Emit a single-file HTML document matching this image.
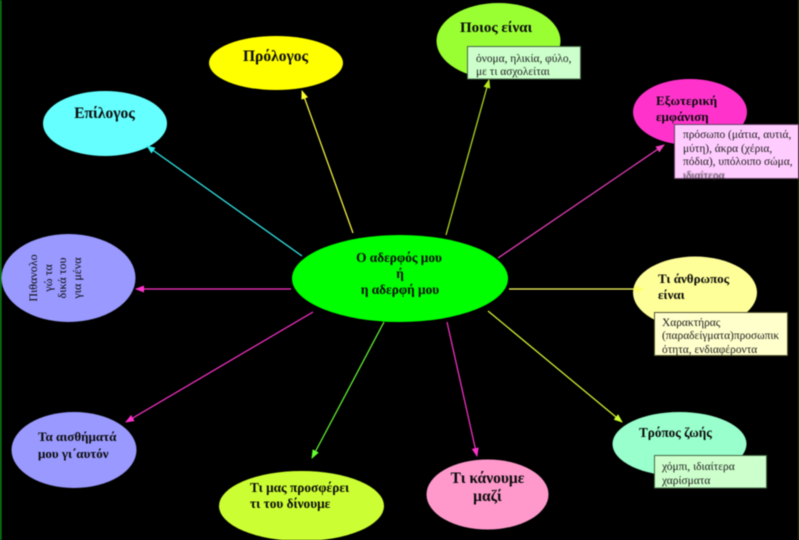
<!DOCTYPE html>
<html><head><meta charset="utf-8"><style>
html,body{margin:0;padding:0;background:#000;width:799px;height:540px;overflow:hidden}
svg{display:block;filter:blur(0.45px)}
text{font-family:"Liberation Serif",serif}
.b{font-weight:bold;fill:#0a0a0a}
.t{fill:#1c1c1c;font-size:11.4px}
</style></head><body>
<svg width="799" height="540" viewBox="0 0 799 540" xmlns="http://www.w3.org/2000/svg">
<defs>
<marker id="a1" markerWidth="9" markerHeight="7" refX="8" refY="3.5" orient="auto" markerUnits="userSpaceOnUse"><path d="M0 0L9 3.5L0 7z" fill="#ffff33"/></marker>
<marker id="a2" markerWidth="9" markerHeight="7" refX="8" refY="3.5" orient="auto" markerUnits="userSpaceOnUse"><path d="M0 0L9 3.5L0 7z" fill="#b8e820"/></marker>
<marker id="a3" markerWidth="9" markerHeight="7" refX="8" refY="3.5" orient="auto" markerUnits="userSpaceOnUse"><path d="M0 0L9 3.5L0 7z" fill="#f040c0"/></marker>
<marker id="a4" markerWidth="9" markerHeight="7" refX="8" refY="3.5" orient="auto" markerUnits="userSpaceOnUse"><path d="M0 0L9 3.5L0 7z" fill="#ffff66"/></marker>
<marker id="a5" markerWidth="9" markerHeight="7" refX="8" refY="3.5" orient="auto" markerUnits="userSpaceOnUse"><path d="M0 0L9 3.5L0 7z" fill="#ccff33"/></marker>
<marker id="a6" markerWidth="9" markerHeight="7" refX="8" refY="3.5" orient="auto" markerUnits="userSpaceOnUse"><path d="M0 0L9 3.5L0 7z" fill="#ff33cc"/></marker>
<marker id="a7" markerWidth="9" markerHeight="7" refX="8" refY="3.5" orient="auto" markerUnits="userSpaceOnUse"><path d="M0 0L9 3.5L0 7z" fill="#66ff33"/></marker>
<marker id="a8" markerWidth="9" markerHeight="7" refX="8" refY="3.5" orient="auto" markerUnits="userSpaceOnUse"><path d="M0 0L9 3.5L0 7z" fill="#33eeee"/></marker>
</defs>
<rect width="799" height="540" fill="#000"/>
<rect x="0" y="0" width="1.5" height="540" fill="#0a8a14"/>
<rect x="798" y="0" width="1" height="540" fill="#064d0b"/>

<ellipse cx="498.500" cy="41" rx="62" ry="38" fill="#99ff33"/>
<ellipse cx="690" cy="112" rx="57" ry="33" fill="#ff33cc"/>
<ellipse cx="695" cy="292.500" rx="62" ry="36" fill="#ffff99"/>
<ellipse cx="679.500" cy="444" rx="67" ry="32" fill="#99ffcc"/>
<ellipse cx="68.500" cy="278" rx="67" ry="44" fill="#9999ff"/>
<ellipse cx="74" cy="450" rx="62.500" ry="38" fill="#9999ff"/>
<ellipse cx="301.500" cy="506" rx="82.500" ry="35" fill="#ccff33"/>
<ellipse cx="487.500" cy="494.500" rx="61" ry="35" fill="#ff99cc"/>
<ellipse cx="276" cy="63" rx="67" ry="27" fill="#ffff00"/>
<ellipse cx="105" cy="123.500" rx="62" ry="32.500" fill="#66ffff"/>
<ellipse cx="400" cy="278.500" rx="108" ry="43.500" fill="#00ff00"/>

<g stroke-width="1.2" fill="none">
<line x1="353" y1="233" x2="302" y2="91" stroke="#ffff40" marker-end="url(#a1)"/>
<line x1="446" y1="235" x2="489" y2="80" stroke="#b8e820" marker-end="url(#a2)"/>
<line x1="498" y1="258" x2="664" y2="145" stroke="#f040c0" marker-end="url(#a3)"/>
<line x1="509" y1="289" x2="643" y2="289" stroke="#ffff60" marker-end="url(#a4)"/>
<line x1="488" y1="311" x2="622" y2="422" stroke="#d8ff33" marker-end="url(#a5)"/>
<line x1="447" y1="322" x2="477" y2="456" stroke="#ff33cc" marker-end="url(#a6)"/>
<line x1="384" y1="322" x2="312" y2="458" stroke="#66ff33" marker-end="url(#a7)"/>
<line x1="313" y1="312" x2="126" y2="422" stroke="#ff33cc" marker-end="url(#a6)"/>
<line x1="291" y1="289" x2="136" y2="289" stroke="#ff33cc" marker-end="url(#a6)"/>
<line x1="302" y1="256" x2="147" y2="146" stroke="#33eeee" marker-end="url(#a8)"/>
</g>

<text class="b" font-size="15" x="460" y="32">Ποιος είναι</text>
<rect x="467.500" y="46.500" width="113" height="32.500" fill="#ccffcc" stroke="#446644" stroke-width="1"/>
<text class="t" x="476" y="62">όνομα, ηλικία, φύλο,</text>
<text class="t" x="476" y="75">με τι ασχολείται</text>

<text class="b" font-size="13" x="656" y="105">Εξωτερική</text>
<text class="b" font-size="13" x="656" y="121">εμφάνιση</text>
<rect x="674.500" y="124.500" width="124" height="54" fill="#ffccff" stroke="#664466" stroke-width="1"/>
<text class="t" x="683" y="138">πρόσωπο (μάτια, αυτιά,</text>
<text class="t" x="683" y="152">μύτη), άκρα (χέρια,</text>
<text class="t" x="683" y="165">πόδια), υπόλοιπο σώμα,</text>
<svg x="674" y="125" width="125" height="53" viewBox="674 125 125 53"><text class="t" x="683" y="179">ιδιαίτερα</text></svg>

<text class="b" font-size="13" x="658" y="283">Τι άνθρωπος</text>
<text class="b" font-size="13" x="658" y="299">είναι</text>
<rect x="654.500" y="312.500" width="133" height="43" fill="#ffffcc" stroke="#555533" stroke-width="1"/>
<text class="t" x="662" y="326">Χαρακτήρας</text>
<text class="t" x="662" y="339">(παραδείγματα)προσωπικ</text>
<text class="t" x="662" y="353">ότητα, ενδιαφέροντα</text>

<text class="b" font-size="13.200" x="639" y="437">Τρόπος ζωής</text>
<rect x="654.500" y="455.500" width="112" height="32.500" fill="#ccffcc" stroke="#446644" stroke-width="1"/>
<text class="t" x="662" y="470">χόμπι, ιδιαίτερα</text>
<text class="t" x="662" y="484">χαρίσματα</text>

<g text-anchor="middle">
<text class="t" style="fill:#0a0a0a;font-size:12px" transform="translate(37,278) rotate(-90)">Πιθανολο</text>
<text class="t" style="fill:#0a0a0a;font-size:12px" transform="translate(52,278) rotate(-90)">γώ τα</text>
<text class="t" style="fill:#0a0a0a;font-size:12px" transform="translate(66,278) rotate(-90)">δικά του</text>
<text class="t" style="fill:#0a0a0a;font-size:12px" transform="translate(81,278) rotate(-90)">για μένα</text>
</g>

<text class="b" font-size="13" x="38" y="441">Τα αισθήματά</text>
<text class="b" font-size="13" x="38" y="458">μου γι΄αυτόν</text>

<text class="b" font-size="13.300" x="250" y="492">Τι μας προσφέρει</text>
<text class="b" font-size="13.300" x="250" y="508">τι του δίνουμε</text>

<text class="b" font-size="15.500" x="487.500" y="483" text-anchor="middle">Τι κάνουμε</text>
<text class="b" font-size="15.500" x="487.500" y="501" text-anchor="middle">μαζί</text>

<text class="b" font-size="15.500" x="275.500" y="61" text-anchor="middle">Πρόλογος</text>
<text class="b" font-size="15.500" x="104.500" y="118" text-anchor="middle">Επίλογος</text>

<text class="b" font-size="13.300" x="399" y="262" text-anchor="middle">Ο αδερφός μου</text>
<text class="b" font-size="13.300" x="400" y="278" text-anchor="middle">ή</text>
<text class="b" font-size="13.300" x="400" y="294" text-anchor="middle">η αδερφή μου</text>
</svg>
</body></html>
